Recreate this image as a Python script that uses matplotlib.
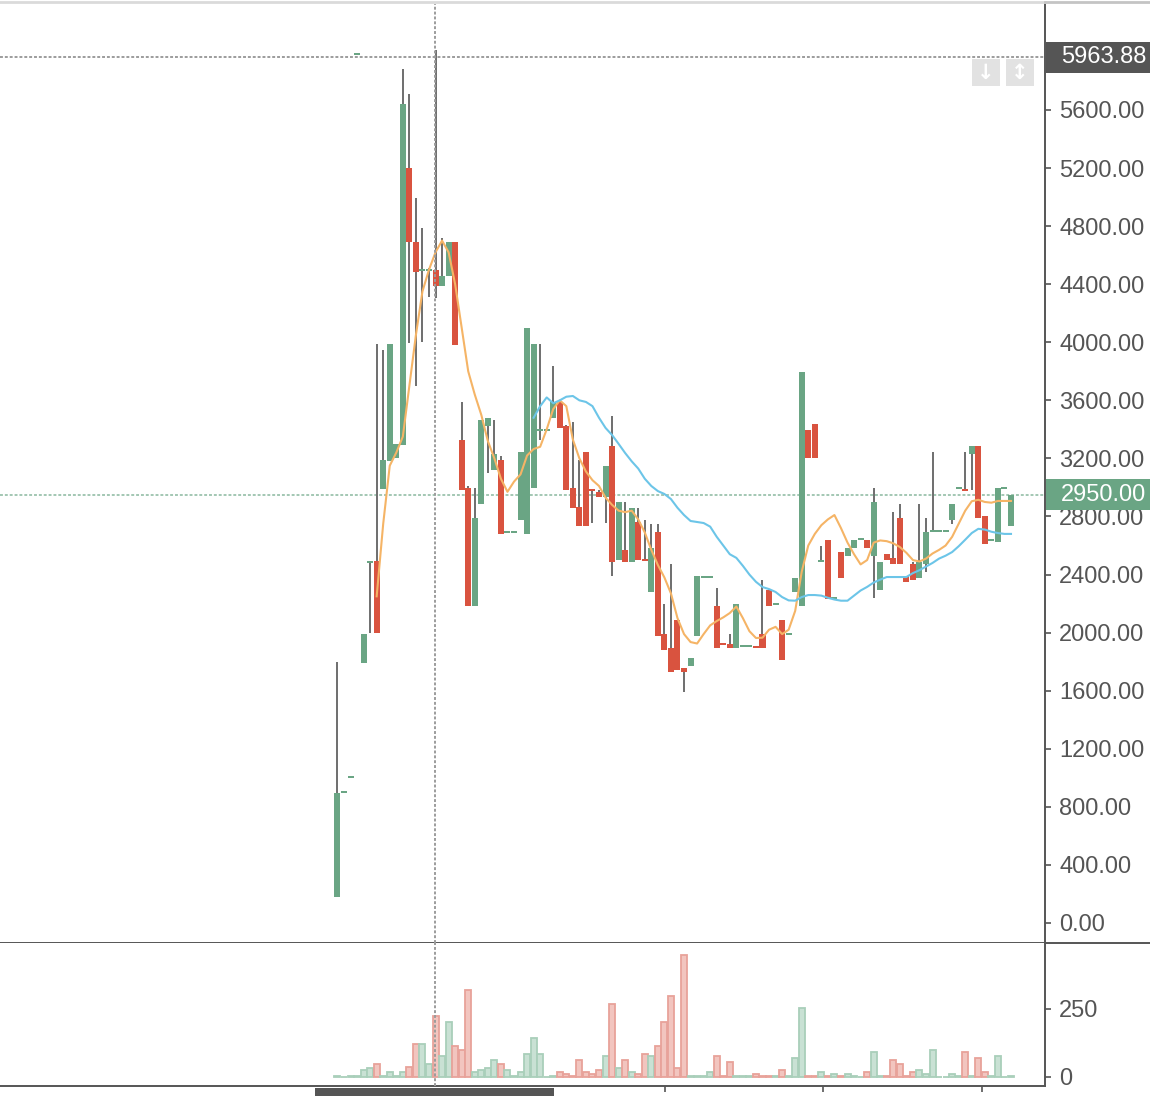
import numpy as np
import matplotlib
matplotlib.use("Agg")
import matplotlib.pyplot as plt
import matplotlib.transforms as mtransforms
from matplotlib.patches import Rectangle
from matplotlib.lines import Line2D

# candle data, one entry per session
opens = [180, 895, 1000, 5980, 1790, 2480, 2490, 2990, 3180, 3200,
         3290, 5200, 4690, 4490, 4490, 4500, 4390, 4456, 4690, 3330,
         2996, 2184, 2886, 3423, 3120, 3189, 2686, 2686, 2776, 2680,
         2996, 3389, 3389, 3478, 3589, 3423, 2996, 2865, 3244, 2983,
         2969, 2934, 3285, 2500, 2569, 2487, 2762, 2500, 2280, 2693,
         1990, 1894, 2087, 1756, 1770, 1977, 2376, 2376, 2184, 1922,
         1922, 1894, 1900, 1900, 1900, 1990, 2293, 2190, 2087, 1984,
         2280, 2184, 3396, 3437, 2487, 2638, 2232, 2555, 2528, 2583,
         2638, 2638, 2528, 2294, 2542, 2514, 2790, 2390, 2473, 2376,
         2473, 2693, 2693, 2693, 2776, 2990, 2980, 3230, 3285, 2803,
         2631, 2624, 2990, 2735]
closes = [895, 895, 1000, 5980, 1990, 2480, 2000, 3190, 3990, 3300,
          5640, 4690, 4485, 4490, 4490, 4390, 4456, 4690, 3980, 2985,
          2184, 2790, 3465, 3478, 3230, 2680, 2686, 2686, 3244, 4098,
          3988, 3389, 3389, 3589, 3410, 2983, 2858, 2735, 2735, 2978,
          2934, 3148, 2487, 2900, 2487, 2858, 2500, 2495, 2583, 1977,
          1880, 1729, 1743, 1729, 1825, 2390, 2376, 2376, 1894, 1918,
          1894, 2197, 1900, 1900, 1896, 1894, 2184, 2190, 1812, 1984,
          2376, 3795, 3203, 3203, 2487, 2232, 2232, 2376, 2583, 2638,
          2638, 2583, 2900, 2487, 2500, 2473, 2473, 2349, 2362, 2487,
          2693, 2693, 2693, 2693, 2886, 2990, 2976, 3285, 2790, 2611,
          2631, 2996, 2990, 2950]
highs = [1800, 895, 1000, 5980, 1990, 2485, 3990, 3950, 3990, 3300,
         5880, 5710, 4995, 4790, 4510, 6010, 4718, 4690, 4690, 3590,
         3010, 2996, 3465, 3478, 3465, 3217, 2700, 2686, 3244, 4098,
         3988, 3988, 3389, 3837, 3589, 3430, 3451, 3189, 3244, 2983,
         2983, 3148, 3492, 2900, 2900, 2858, 2858, 2776, 2748, 2748,
         2197, 2473, 2087, 1756, 1825, 2390, 2376, 2376, 2307, 1922,
         1990, 2197, 1900, 1900, 1900, 2362, 2293, 2190, 2087, 1984,
         2376, 3795, 3396, 3437, 2597, 2638, 2232, 2555, 2583, 2638,
         2638, 2638, 2996, 2487, 2542, 2831, 2886, 2390, 2487, 2886,
         2790, 3244, 2693, 2693, 2886, 2990, 3244, 3285, 3285, 2803,
         2631, 2996, 2990, 2950]
lows = [180, 895, 1000, 5980, 1790, 2000, 2000, 2990, 3180, 3200,
        3290, 3995, 3700, 4000, 4310, 4305, 4390, 4456, 3980, 2985,
        2184, 2184, 2886, 3100, 3120, 2680, 2686, 2686, 2776, 2680,
        2996, 3327, 3389, 3478, 3410, 2983, 2858, 2735, 2735, 2755,
        2934, 2755, 2390, 2500, 2487, 2487, 2500, 2495, 2280, 1977,
        1880, 1729, 1743, 1591, 1770, 1977, 2376, 2376, 1894, 1918,
        1894, 1894, 1900, 1900, 1896, 1894, 2184, 2190, 1812, 1984,
        2280, 2184, 3203, 3203, 2487, 2232, 2232, 2376, 2528, 2583,
        2638, 2583, 2239, 2294, 2500, 2473, 2473, 2349, 2362, 2376,
        2418, 2693, 2693, 2693, 2748, 2990, 2976, 2983, 2790, 2611,
        2631, 2624, 2990, 2735]
volumes = [3, 1, 3, 3, 24, 32, 47, 2, 17, 2,
           17, 38, 120, 120, 47, 223, 76, 201, 113, 98,
           319, 17, 24, 32, 61, 47, 24, 2, 17, 83,
           142, 83, 1, 2, 17, 10, 2, 61, 17, 10,
           24, 76, 267, 32, 61, 17, 10, 83, 76, 113,
           201, 297, 32, 448, 2, 2, 2, 17, 76, 2,
           54, 2, 2, 2, 10, 2, 2, 2, 24, 2,
           69, 252, 2, 2, 17, 2, 10, 2, 10, 2,
           1, 17, 91, 2, 2, 61, 47, 2, 17, 24,
           10, 98, 1, 1, 10, 2, 91, 2, 69, 17,
           2, 76, 1, 2]

# moving averages as drawn on the chart
ma_fast_start = 6
ma_fast = [2250, 2750, 3150, 3240, 3350, 3700, 4050, 4350, 4500, 4620,
           4700, 4620, 4400, 4100, 3800, 3640, 3500, 3320, 3200, 3060,
           2970, 3040, 3090, 3220, 3265, 3280, 3400, 3540, 3600, 3560,
           3330, 3200, 3110, 3050, 3010, 2930, 2880, 2840, 2830, 2840,
           2780, 2690, 2570, 2466, 2380, 2270, 2100, 1990, 1935, 1925,
           1990, 2050, 2080, 2105, 2135, 2180, 2100, 2010, 1963, 1965,
           2020, 2040, 1990, 2020, 2150, 2420, 2600, 2680, 2740, 2780,
           2810, 2720, 2620, 2540, 2470, 2500, 2620, 2635, 2630, 2615,
           2590, 2550, 2500, 2490, 2510, 2545, 2570, 2600, 2660, 2750,
           2840, 2905, 2915, 2900, 2895, 2907, 2907, 2907]
ma_slow_start = 30
ma_slow = [3480, 3560, 3620, 3580, 3600, 3625, 3630, 3600, 3589, 3560,
           3480, 3410, 3361, 3300, 3237, 3180, 3130, 3060, 3010, 2975,
           2955, 2920, 2860, 2810, 2769, 2762, 2755, 2730, 2660, 2600,
           2540, 2515, 2460, 2400, 2350, 2314, 2300, 2280, 2245, 2222,
           2220, 2245, 2259, 2259, 2255, 2240, 2228, 2220, 2220, 2255,
           2290, 2315, 2345, 2365, 2383, 2383, 2383, 2383, 2410, 2430,
           2455, 2480, 2510, 2530, 2555, 2595, 2640, 2686, 2715, 2710,
           2695, 2686, 2680, 2680]

price_ticks = [0, 400, 800, 1200, 1600, 2000, 2400, 2800, 3200, 3600,
               4000, 4400, 4800, 5200, 5600]
vol_ticks = [0, 250]
time_ticks = [50.1, 74.2, 98.5]
cross_index = 14.9
cross_price = 5963.88
last_price = 2950.00

GREEN = '#6aa584'
RED = '#d9533f'
WICK = '#6e6e6e'
AXIS = '#555555'

plt.rcParams['font.family'] = ['Liberation Sans', 'DejaVu Sans']

W, H = 1150, 1096
fig = plt.figure(figsize=(W / 100, H / 100), dpi=100)
ax = fig.add_axes([0, (H - 943) / H, 1045 / W, (943 - 4) / H])
axv = fig.add_axes([0, (H - 1086) / H, 1045 / W, (1086 - 943) / H], sharex=ax)

x = np.arange(len(opens))
o = np.array(opens, float)
c = np.array(closes, float)
up = c >= o
body_lo = np.minimum(o, c)
body_h = np.maximum(np.abs(c - o), 13)
colors = np.where(up, GREEN, RED)

ax.vlines(x, lows, highs, color=WICK, lw=1.4, zorder=2)
ax.bar(x, body_h, bottom=body_lo, width=0.92, color=colors, linewidth=0, zorder=3)

xf = np.arange(ma_fast_start, ma_fast_start + len(ma_fast))
xs = np.arange(ma_slow_start, ma_slow_start + len(ma_slow))
ax.plot(xf, ma_fast, color='#f5b466', lw=1.5, zorder=4)
ax.plot(xs, ma_slow, color='#6cc5e8', lw=1.5, zorder=4)

# volume pane
vfill = np.where(up, '#c9e1d4', '#f2c5bf')
vedge = np.where(up, '#a9cfba', '#e8a29a')
axv.bar(x, volumes, width=0.92, color=vfill, edgecolor=vedge, linewidth=1.3, zorder=3)

ax.set_xlim(-51.6, 108.2)
ax.set_ylim(-137.8, 6330)
axv.set_ylim(-33.1, 492.6)

# crosshair and last price
ax.axhline(cross_price, color='#9c9c9c', lw=1.4, dashes=(1.5, 1.0), zorder=5)
ax.axhline(last_price, color='#a3c7b3', lw=1.4, dashes=(1.5, 1.0), zorder=1)
for a in (ax, axv):
    a.axvline(cross_index, color='#9c9c9c', lw=1.4, dashes=(1.5, 1.0), zorder=5)

for a, ticks in ((ax, price_ticks), (axv, vol_ticks)):
    a.yaxis.tick_right()
    a.set_yticks(ticks)
    a.tick_params(axis='y', direction='out', length=4.3, width=1.2, colors=AXIS,
                  labelsize=17, pad=6)
    a.spines['left'].set_visible(False)
    a.spines['top'].set_visible(False)
    a.spines['right'].set_color(AXIS)
    a.spines['right'].set_linewidth(1.4)
    a.spines['bottom'].set_color(AXIS)
    a.spines['bottom'].set_linewidth(1.4)
    a.set_facecolor('white')
ax.set_yticklabels([f"{t:.2f}" for t in price_ticks])
axv.set_yticklabels([str(t) for t in vol_ticks])
ax.tick_params(axis='x', bottom=False, labelbottom=False)
axv.set_xticks(time_ticks)
axv.tick_params(axis='x', direction='out', length=4.3, width=1.2, colors=AXIS,
                labelbottom=False)

# price label boxes on the axis
blend = mtransforms.blended_transform_factory(fig.transFigure, ax.transData)
box_h = 31 / 0.14518
for price, fc in ((cross_price, '#555555'), (last_price, GREEN)):
    ax.add_patch(Rectangle((1046 / W, price - box_h / 2), 104 / W, box_h, transform=blend,
                           facecolor=fc, edgecolor='none', clip_on=False, zorder=10))
    ax.text(1061 / W, price, f"{price:.2f}", transform=blend, ha='left', va='center',
            color='white', fontsize=17, clip_on=False, zorder=11)

# frame lines outside the axes
fig.add_artist(Line2D([0, 1045 / W], [1 - 2 / H, 1 - 2 / H], color='#dadada', lw=2))
fig.add_artist(Line2D([1045 / W, 1], [1 - 2 / H, 1 - 2 / H], color='#c4c4c4', lw=2))
fig.add_artist(Line2D([1045 / W, 1], [(H - 943) / H, (H - 943) / H], color=AXIS, lw=1.4))

# time label box at the bottom
fig.add_artist(Rectangle((315 / W, 0), (554 - 315) / W, 8 / H, facecolor='#555555',
                         edgecolor='none'))

# small buttons
for x0, sym in ((972, '\u2193'), (1006, '\u2195')):
    fig.add_artist(Rectangle((x0 / W, 1 - 86 / H), 28 / W, 27 / H, facecolor='#e2e2e2',
                             edgecolor='none'))
    fig.text((x0 + 14) / W, 1 - 72.5 / H, sym, ha='center', va='center', color='white',
             fontsize=15, fontweight='bold', family=['DejaVu Sans'])

fig.savefig('out.png', dpi=100)
